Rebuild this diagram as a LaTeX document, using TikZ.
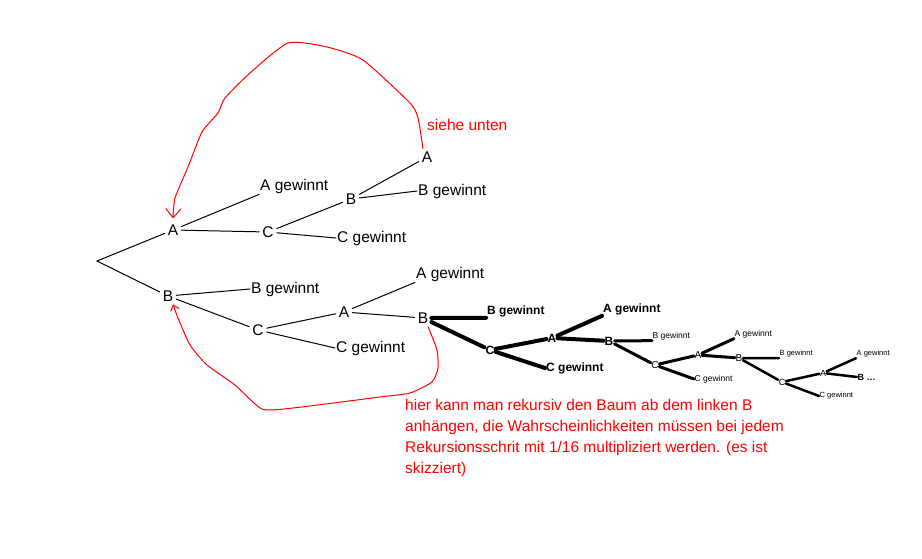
\documentclass[tikz,border=0pt]{standalone}
\usepackage{fontspec}
\setmainfont{Liberation Sans}
\usepackage{xcolor}
\definecolor{penred}{HTML}{FF0000}
\usetikzlibrary{arrows.meta}

\begin{document}
\begin{tikzpicture}[x=1pt,y=-1pt,line cap=round,
  lab/.style={inner sep=3pt,font=\fontsize{15.5}{18}\selectfont},
  leaf/.style={inner sep=1pt,anchor=west,font=\fontsize{15.5}{18}\selectfont},
  lab1/.style={inner sep=1pt,font=\fontsize{12}{14}\selectfont\bfseries},
  leaf1/.style={lab1,anchor=west},
  lab2/.style={inner sep=0.5pt,font=\fontsize{10}{12}\selectfont},
  leaf2/.style={inner sep=0.5pt,anchor=west,font=\fontsize{8.5}{10}\selectfont},
  lab3/.style={inner sep=0.5pt,font=\fontsize{9}{11}\selectfont},
  leaf3/.style={inner sep=0.5pt,anchor=west,font=\fontsize{7.5}{9}\selectfont},
  thin/.style={draw=black,line width=1pt},
  heavy1/.style={draw=black,line width=4pt},
  heavy2/.style={draw=black,line width=3pt},
  heavy3/.style={draw=black,line width=2.5pt},
  pen/.style={draw=penred,line width=1pt},
  note/.style={inner sep=0pt,text=penred,align=left,font=\fontsize{15.5}{21}\selectfont}]
\fill[white] (0,0) rectangle (922,558);
\useasboundingbox (0,0) rectangle (922,558);
% first level
\coordinate (root) at (97,261);
\node[lab] (a1) at (173,230) {A};
\node[lab] (b2) at (168,296) {B};
\draw[thin] (root)--(a1);\draw[thin] (root)--(b2);
% upper branch
\node[leaf] (aw1) at (259,186) {A gewinnt};
\node[lab] (c1) at (268,232) {C};
\node[lab] (b1) at (351,199) {B};
\node[lab] (a2) at (427,157) {A};
\node[leaf] (bw1) at (417,191) {B gewinnt};
\node[leaf] (cw1) at (336,238) {C gewinnt};
\draw[thin] (a1)--(aw1.south west);\draw[thin] (a1)--(c1);\draw[thin] (c1)--(b1);
\draw[thin] (b1)--(a2);\draw[thin] (b1)--(bw1.west);\draw[thin] (c1)--(cw1.west);
\node[inner sep=0pt,anchor=west,text=penred,font=\fontsize{15.5}{18}\selectfont] (see) at (427,125) {siehe unten};
% lower branch
\node[leaf] (bw2) at (250,289) {B gewinnt};
\node[lab] (c2) at (258,330) {C};
\node[lab] (a3) at (344,312) {A};
\node[leaf] (cw2) at (335,348) {C gewinnt};
\node[leaf] (aw2) at (415,274) {A gewinnt};
\node[lab] (b3) at (423,318) {B};
\draw[thin] (b2)--(bw2.west);\draw[thin] (b2)--(c2);\draw[thin] (c2)--(a3);
\draw[thin] (c2)--(cw2.west);\draw[thin] (a3)--(aw2.south west);\draw[thin] (a3)--(b3);
% sketched recursion
\node[leaf1] (bw3) at (486,311) {B gewinnt};
\node[lab1] (c3) at (490,350) {C};
\node[lab1] (a4) at (552,338) {A};
\node[leaf1] (cw3) at (545,368) {C gewinnt};
\node[leaf1] (aw3) at (602,309) {A gewinnt};
\node[lab1] (b4) at (609,341) {B};
\draw[heavy1] (b3)--(bw3.south west);\draw[heavy1] (b3)--(c3);\draw[heavy1] (c3)--(a4);
\draw[heavy1] (c3)--(cw3.west);\draw[heavy1] (a4)--(aw3.south west);\draw[heavy1] (a4)--(b4);
\node[leaf2] (bw4) at (652,336) {B gewinnt};
\node[lab2] (c4) at (655,365) {C};
\node[lab2] (a5) at (698,355) {A};
\node[leaf2] (cw4) at (694,379) {C gewinnt};
\node[leaf2] (aw4) at (734,334) {A gewinnt};
\node[lab2] (b5) at (739,358) {B};
\draw[heavy2] (b4)--(bw4.south west);\draw[heavy2] (b4)--(c4);\draw[heavy2] (c4)--(a5);
\draw[heavy2] (c4)--(cw4.west);\draw[heavy2] (a5)--(aw4.south west);\draw[heavy2] (a5)--(b5);
\node[leaf3] (bw5) at (779,354) {B gewinnt};
\node[lab3] (c5) at (782,382) {C};
\node[lab3] (a6) at (823,373) {A};
\node[leaf3] (cw5) at (819,396) {C gewinnt};
\node[leaf3] (aw5) at (856,354) {A gewinnt};
\node[leaf3,font=\fontsize{9}{11}\selectfont\bfseries] (bdots) at (857,377) {B \dots};
\draw[heavy3] (b5)--(bw5.south west);\draw[heavy3] (b5)--(c5);\draw[heavy3] (c5)--(a6);
\draw[heavy3] (c5)--(cw5.west);\draw[heavy3] (a6)--(aw5.south west);\draw[heavy3] (a6)--(bdots.west);
% red hand-drawn loops
\draw[pen,-{Straight Barb[length=9pt,width=15pt]}] plot[smooth,tension=0.35] coordinates {([xshift=-4pt]a2.north) (418,118) (410,103) (363,60) (327,47) (288,43) (250,73) (225,98) (218,113) (202,132) (188,167) (175,198) ([yshift=3pt]a1.north)};
\draw[pen,-{Straight Barb[length=5pt,width=9pt]}] plot[smooth,tension=0.35] coordinates {([xshift=5pt]b3.south) (437,350) (438,368) (432,382) (410,393) (380,397) (293,408) (262,409) (235,385) (207,365) (190,345) (178,318) ([xshift=5pt]b2.south)};
\node[note,anchor=north west] (txt) at (405,399) {hier kann man rekursiv den Baum ab dem linken B\\anhängen, die Wahrscheinlichkeiten müssen bei jedem\\Rekursionsschrit mit 1/16 multipliziert werden. (es ist\\skizziert)};
\end{tikzpicture}
\end{document}
